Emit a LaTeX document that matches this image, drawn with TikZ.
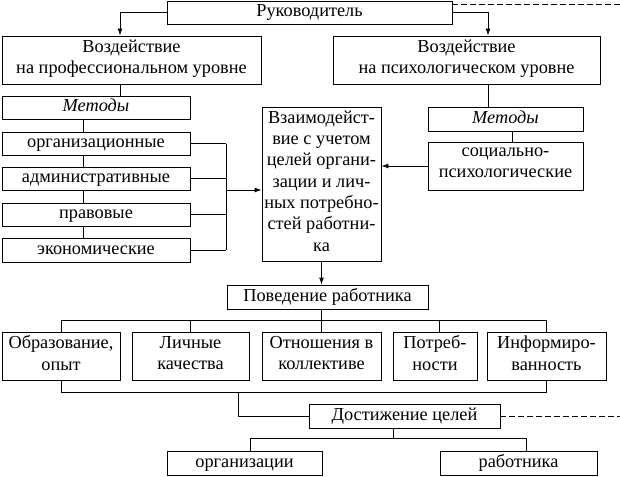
\documentclass[tikz,border=0pt]{standalone}
\usepackage{fontspec}
\setmainfont{Liberation Serif}
\usetikzlibrary{arrows.meta}
\begin{document}
\begin{tikzpicture}[x=1pt,y=-1pt,
  box/.style={draw, line width=0.9pt, inner sep=0pt, align=center,
    font=\fontsize{18.3}{21.3}\selectfont,
    execute at begin node={\rule[-6pt]{0pt}{20.5pt}},
    execute at end node={\rule[-6pt]{0pt}{20.5pt}}},
  conn/.style={line width=0.9pt},
  arr/.style={line width=0.9pt, -{Latex[length=7pt,width=5pt]}},
  dsh/.style={line width=0.9pt, dash pattern=on 6pt off 3pt}]
\useasboundingbox (0,0) rectangle (620,476);
% top
\node[box, minimum width=285, minimum height=23] (ruk) at (309.5,12.5) {Руководитель};
\node[box, minimum width=259, minimum height=48] (vl) at (131.5,60) {Воздействие\\на профессиональном уровне};
\node[box, minimum width=267, minimum height=48] (vr) at (466.5,60) {Воздействие\\на психологическом уровне};
% left methods
\node[box, minimum width=188, minimum height=23] (ml) at (96,107.5) {\itshape Методы};
\node[box, minimum width=188, minimum height=23] (org) at (96,143.5) {организационные};
\node[box, minimum width=188, minimum height=23] (adm) at (96,178.5) {административные};
\node[box, minimum width=188, minimum height=23] (prav) at (96,214.5) {правовые};
\node[box, minimum width=188, minimum height=24] (ekon) at (96,250) {экономические};
% centre
\node[box, minimum width=119, minimum height=154] (c) at (321.5,184) {Взаимодейст-\\вие с учетом\\целей органи-\\зации и лич-\\ных потребно-\\стей работни-\\ка};
% right methods
\node[box, minimum width=155, minimum height=24] (mr) at (505.5,119) {\itshape Методы};
\node[box, minimum width=155, minimum height=48] (soc) at (505.5,166) {социально-\\психологические};
% behaviour
\node[box, minimum width=201, minimum height=24] (pov) at (327.5,297) {Поведение работника};
\node[box, minimum width=118, minimum height=48] (obr) at (61,356) {Образование,\\опыт};
\node[box, minimum width=117, minimum height=48] (lich) at (190.5,356) {Личные\\качества};
\node[box, minimum width=119, minimum height=48] (otn) at (321.5,356) {Отношения в\\коллективе};
\node[box, minimum width=84, minimum height=48] (potr) at (435,356) {Потреб-\\ности};
\node[box, minimum width=119, minimum height=48] (inf) at (546.5,356) {Информиро-\\ванность};
% goals
\node[box, minimum width=191, minimum height=24] (dost) at (404.5,416) {Достижение целей};
\node[box, minimum width=155, minimum height=24] (orgz) at (244.5,463) {организации};
\node[box, minimum width=157, minimum height=24] (rab) at (518.5,463) {работника};
% free ends
\coordinate (d1) at (620,4);
\coordinate (d2) at (620,416);
\coordinate (bus) at (226,190);
\coordinate (b2) at (238,392);
% connectors top
\draw[arr] (ruk.west) -| ([xshift=-11.5pt]vl.north);
\draw[arr] (ruk.east) -| ([xshift=21.5pt]vr.north);
\draw[dsh] ([yshift=8.5pt]ruk.east) -- (d1);
% left chain
\draw[conn] ([xshift=-11.5pt]vl.south) -- ([xshift=24pt]ml.north);
\draw[conn] ([xshift=-13pt]ml.south) -- ([xshift=-13pt]org.north);
\draw[conn] ([xshift=-13pt]org.south) -- ([xshift=-13pt]adm.north);
\draw[conn] ([xshift=-13pt]adm.south) -- ([xshift=-13pt]prav.north);
\draw[conn] ([xshift=-13pt]prav.south) -- ([xshift=-13pt]ekon.north);
\draw[conn] (org.east) -- (org.east -| bus);
\draw[conn] (adm.east) -- (adm.east -| bus);
\draw[conn] (prav.east) -- (prav.east -| bus);
\draw[conn] (ekon.east) -- (ekon.east -| bus);
\draw[conn] (org.east -| bus) -- (ekon.east -| bus);
\draw[arr] (bus) -- (c.west |- bus);
% right chain
\draw[conn] ([xshift=21.5pt]vr.south) -- ([xshift=-17.5pt]mr.north);
\draw[conn] ([xshift=6.5pt]mr.south) -- ([xshift=6.5pt]soc.north);
\draw[arr] (soc.west) -- (c.east |- soc.west);
% centre to behaviour
\draw[arr] (c.south) -- (pov.north -| c.south);
\draw[conn] (pov.south -| otn.north) -- (otn.north);
\draw[conn] (obr.north) -- ++(0,-11) -| (inf.north);
\draw[conn] (lich.north) -- ++(0,-11);
\draw[conn] ([xshift=4pt]potr.north) -- ++(0,-11);
\draw[conn] (obr.south) -- ++(0,12) -| (inf.south);
\draw[conn] (b2) |- (dost.west);
\draw[dsh] (dost.east) -- (d2);
% goals
\draw[conn] ([xshift=-11.5pt]dost.south) -- ++(0,11);
\draw[conn] ([xshift=5.5pt]orgz.north) -- ++(0,-12) -| ([xshift=7.5pt]rab.north);
\end{tikzpicture}
\end{document}
